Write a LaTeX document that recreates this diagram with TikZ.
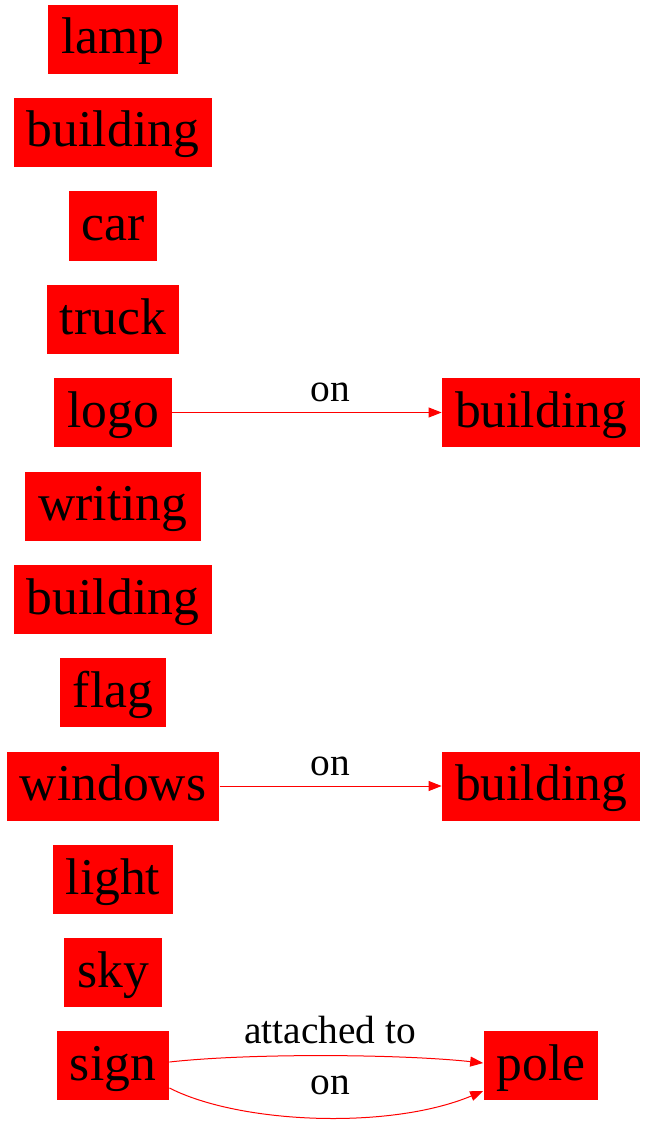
\documentclass[tikz,border=0pt]{standalone}
\usepackage{fontspec}
\setmainfont{Liberation Serif}
\usetikzlibrary{arrows.meta}
\tikzset{obj/.style = {rectangle,fill=red,inner xsep=6.5pt,minimum height=34.5pt,
    text height=18pt,text depth=3.5pt,font=\fontsize{25.8}{30}\selectfont}}
\tikzset{rel/.style = {anchor=base,inner sep=0pt,font=\fontsize{19.7}{24}\selectfont}}
\tikzset{edge/.style = {draw=red,line width=0.5pt,-{Triangle[length=6.5pt,width=5pt,fill=red]}}}

\begin{document}
\begin{tikzpicture}[x=0.5pt,y=-0.5pt]
                \useasboundingbox (0,0) rectangle (647,1123);
                \begin{scope}[every node/.style=obj]
                    \node (lamp)    at (113,  39.5) {lamp};
                    \node (bldA)    at (113, 132.5) {building};
                    \node (car)     at (113, 226  ) {car};
                    \node (truck)   at (113, 319.5) {truck};
                    \node (logo)    at (113, 412.5) {logo};
                    \node (writing) at (113, 506  ) {writing};
                    \node (bldB)    at (113, 599.5) {building};
                    \node (flag)    at (113, 692.5) {flag};
                    \node (windows) at (113, 786  ) {windows};
                    \node (light)   at (113, 879.5) {light};
                    \node (sky)     at (113, 972.5) {sky};
                    \node (sign)    at (113,1065.5) {sign};
                    \node (bldC)    at (541, 412.5) {building};
                    \node (bldD)    at (541, 786  ) {building};
                    \node (pole)    at (541,1065.5) {pole};
                \end{scope}
                \draw[edge] (logo) -- (bldC);
                \node[rel] (onA) at (330, 401) {on};
                \draw[edge] (windows) -- (bldD);
                \node[rel] (onB) at (330, 775) {on};
                \draw[edge] ([yshift=1.75pt]sign.east) .. controls (250,1053) and (400,1054) .. ([yshift=1.25pt]pole.west);
                \node[rel] (att) at (330,1043) {attached to};
                \draw[edge] ([yshift=-11.25pt]sign.east) .. controls (240,1124) and (390,1130) .. ([yshift=-12.75pt]pole.west);
                \node[rel] (onC) at (330,1094) {on};
            \end{tikzpicture}
\end{document}
